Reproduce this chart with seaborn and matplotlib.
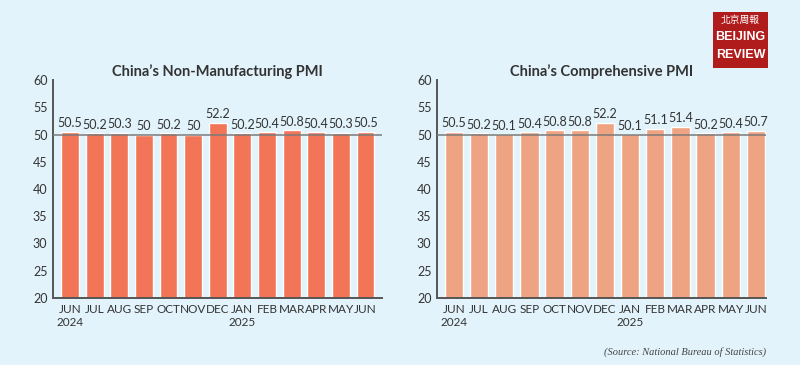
import matplotlib
matplotlib.use("Agg")
import matplotlib.pyplot as plt
from matplotlib.patches import Rectangle
import seaborn as sns
import pandas as pd

# ── Data ───────────────────────────────────────────────────────────────────────
months = ["JUN\n2024", "JUL", "AUG", "SEP", "OCT", "NOV", "DEC",
          "JAN\n2025", "FEB", "MAR", "APR", "MAY", "JUN"]
non_mfg = [50.5, 50.2, 50.3, 50.0, 50.2, 50.0, 52.2, 50.2, 50.4, 50.8, 50.4, 50.3, 50.5]
comp    = [50.5, 50.2, 50.1, 50.4, 50.8, 50.8, 52.2, 50.1, 51.1, 51.4, 50.2, 50.4, 50.7]
y_ticks = [20, 25, 30, 35, 40, 45, 50, 55, 60]

BG = "#e2f3fb"
TXT = "#333333"
FONT = ["Lato", "DejaVu Sans"]

sns.set_theme(style="white")
plt.rcParams["font.family"] = FONT

fig = plt.figure(figsize=(8, 3.65), dpi=100)
fig.patch.set_facecolor(BG)

def label(v):
    return f"{v:g}"

def draw(rect, values, color, title, xlim):
    ax = fig.add_axes(rect)
    ax.set_facecolor(BG)
    df = pd.DataFrame({"month": months, "value": values})
    sns.barplot(data=df, x="month", y="value", order=months, color=color,
                width=0.73, saturation=1, ax=ax)
    ax.set_ylim(20, 60)
    ax.set_xlim(*xlim)
    ax.set_yticks(y_ticks)
    ax.set_yticklabels([str(t) for t in y_ticks], fontsize=9, color=TXT)
    ax.set_xticks(range(len(months)))
    ax.set_xticklabels(months, fontsize=8.5, color=TXT, linespacing=1.25, va="top")
    ax.tick_params(axis="both", length=0, pad=4)
    ax.set_xlabel("")
    ax.set_ylabel("")
    ax.axhline(50, color="#7a7a7a", linewidth=1.1, zorder=3)
    for i, v in enumerate(values):
        ax.text(i, v + 0.45, label(v), ha="center", va="bottom",
                fontsize=9, color=TXT)
    for s in ["top", "right"]:
        ax.spines[s].set_visible(False)
    for s in ["left", "bottom"]:
        ax.spines[s].set_color("#555555")
        ax.spines[s].set_linewidth(1.4)
    ax.set_title(title, fontsize=10.5, fontweight="bold", color=TXT, pad=3)
    return ax

draw([53 / 800, 1 - 298 / 365, 329 / 800, 218 / 365], non_mfg, "#f37558",
     "China\u2019s Non-Manufacturing PMI", (-0.69, 12.67))
draw([437 / 800, 1 - 298 / 365, 329 / 800, 218 / 365], comp, "#eea383",
     "China\u2019s Comprehensive PMI", (-0.67, 12.4))

fig.text(766 / 800, 1 - 352 / 365, "(Source: National Bureau of Statistics)",
         ha="right", va="center", fontsize=7.5, style="italic",
         family=["Liberation Serif", "DejaVu Serif"], color="#444444")

# logo
fig.patches.append(Rectangle((713 / 800, 1 - 68 / 365), 55 / 800, 56 / 365,
                             transform=fig.transFigure, facecolor="#b01c1c",
                             edgecolor="none"))
fig.text(740.5 / 800, 1 - 20 / 365, "北京周報", ha="center", va="center",
         fontsize=7, color="white", family=["Noto Sans CJK TC", "DejaVu Sans"])
fig.text(740.5 / 800, 1 - 37.5 / 365, "BEIJING", ha="center", va="center",
         fontsize=9, fontweight="bold", color="white",
         family=["Liberation Sans", "DejaVu Sans"])
fig.text(740.5 / 800, 1 - 55 / 365, "REVIEW", ha="center", va="center",
         fontsize=9, fontweight="bold", color="white",
         family=["Liberation Sans", "DejaVu Sans"])

fig.savefig("out.png", dpi=100, facecolor=BG)
